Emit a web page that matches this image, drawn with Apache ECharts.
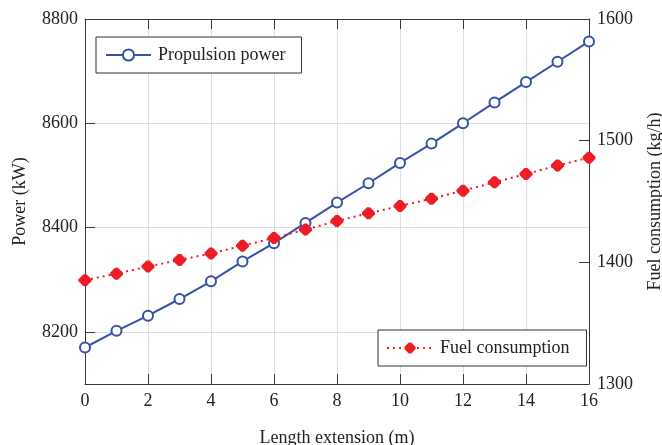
<!DOCTYPE html>
<html>
<head>
<meta charset="utf-8">
<script src="https://cdn.jsdelivr.net/npm/echarts@6/dist/echarts.min.js"></script>
<style>html,body{margin:0;padding:0;background:#fff;}#c{width:662px;height:445px;}</style>
</head>
<body>
<div id="c"></div>
<script>
var lengthExt = [0,1,2,3,4,5,6,7,8,9,10,11,12,13,14,15,16];
var propulsionPower = [8170,8202,8231,8263,8297,8335,8370,8409,8448,8485,8524,8561,8600,8640,8679,8718,8757];
var fuelConsumption = [1385.3,1390.7,1396.5,1402,1407.2,1413.7,1420,1426.9,1434,1440.3,1446.3,1452.3,1458.9,1465.8,1472.6,1479.5,1486];
var powerTicks = [8200,8400,8600,8800];

var FONT = 'Liberation Serif';
var AX = '#3a3a3a';
var GRID = '#dedede';
var BLUE = '#3552a4';
var RED = '#ee1c25';
function plain(v) { return String(v); }

var chart = echarts.init(document.getElementById('c'));
chart.setOption({
  animation: false,
  backgroundColor: '#fff',
  textStyle: {fontFamily: FONT, color: '#222'},
  grid: {left: 85, right: 73, top: 19, bottom: 61, containLabel: false, outerBoundsMode: 'none'},
  legend: [
    {
      data: ['Propulsion power'], left: 96, top: 37,
      padding: [9, 16, 9, 9], itemWidth: 45, itemHeight: 14,
      borderColor: '#333', borderWidth: 1, backgroundColor: '#fff', borderRadius: 0,
      textStyle: {fontFamily: FONT, fontSize: 18, color: '#222', padding: [0,0,0,2]}
    },
    {
      data: ['Fuel consumption'], left: 378, top: 330,
      padding: [9, 17, 9, 8], itemWidth: 46, itemHeight: 14,
      borderColor: '#333', borderWidth: 1, backgroundColor: '#fff', borderRadius: 0,
      textStyle: {fontFamily: FONT, fontSize: 18, color: '#222', padding: [0,0,0,2]}
    }
  ],
  xAxis: [
    {
      type: 'value', min: 0, max: 16, interval: 2, position: 'bottom',
      name: 'Length extension (m)', nameLocation: 'middle', nameGap: 45,
      nameTextStyle: {fontFamily: FONT, fontSize: 18, color: '#222'},
      axisLine: {show: true, onZero: false, lineStyle: {color: AX, width: 1}},
      axisTick: {show: true, inside: true, length: 10, lineStyle: {color: AX}},
      axisLabel: {fontFamily: FONT, fontSize: 18, color: '#222', margin: 8, formatter: plain},
      splitLine: {show: true, lineStyle: {color: GRID, width: 1}}
    },
    {
      type: 'value', min: 0, max: 16, interval: 2, position: 'top',
      axisLine: {show: true, onZero: false, lineStyle: {color: AX, width: 1}},
      axisTick: {show: true, inside: true, length: 10, lineStyle: {color: AX}},
      axisLabel: {show: false},
      splitLine: {show: false}
    }
  ],
  yAxis: [
    {
      type: 'value', min: 8100, max: 8800, position: 'left',
      name: 'Power (kW)', nameLocation: 'middle', nameGap: 56,
      nameTextStyle: {fontFamily: FONT, fontSize: 18, color: '#222'},
      axisLine: {show: true, onZero: false, lineStyle: {color: AX, width: 1}},
      axisTick: {show: true, inside: true, length: 10, lineStyle: {color: AX}, customValues: powerTicks},
      axisLabel: {fontFamily: FONT, fontSize: 18, color: '#222', margin: 7, customValues: powerTicks, formatter: plain},
      splitLine: {show: true, lineStyle: {color: GRID, width: 1}}
    },
    {
      type: 'value', min: 1300, max: 1600, interval: 100, position: 'right',
      name: 'Fuel consumption (kg/h)', nameLocation: 'middle', nameGap: 57,
      nameTextStyle: {fontFamily: FONT, fontSize: 18, color: '#222'},
      axisLine: {show: true, onZero: false, lineStyle: {color: AX, width: 1}},
      axisTick: {show: true, inside: true, length: 10, lineStyle: {color: AX}},
      axisLabel: {fontFamily: FONT, fontSize: 18, color: '#222', margin: 8, formatter: plain},
      splitLine: {show: false}
    }
  ],
  series: [
    {
      name: 'Propulsion power', type: 'line', xAxisIndex: 0, yAxisIndex: 0,
      data: lengthExt.map(function (x, i) { return [x, propulsionPower[i]]; }),
      symbol: 'emptyCircle', symbolSize: 10, showAllSymbol: true,
      color: BLUE,
      itemStyle: {color: BLUE, borderColor: BLUE, borderWidth: 2},
      lineStyle: {color: BLUE, width: 2}
    },
    {
      name: 'Fuel consumption', type: 'line', xAxisIndex: 0, yAxisIndex: 1,
      data: lengthExt.map(function (x, i) { return [x, fuelConsumption[i]]; }),
      symbol: 'path://M5,0 L8,0 L13,5 L13,7 L8,12 L5,12 L0,7 L0,5 Z',
      symbolSize: [13, 12], showAllSymbol: true,
      color: RED,
      itemStyle: {color: RED},
      lineStyle: {color: RED, width: 2, type: [2, 4]}
    }
  ]
});
</script>
</body>
</html>
